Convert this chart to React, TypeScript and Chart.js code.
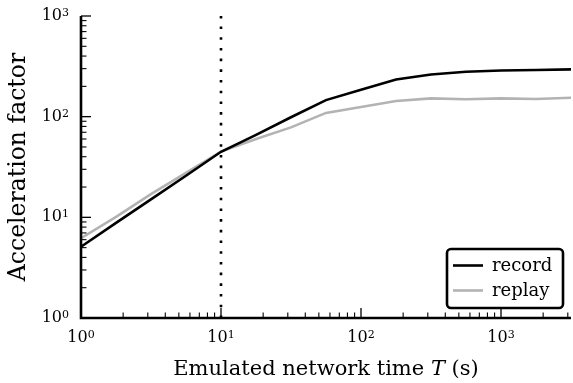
import React, { useEffect, useRef } from "react";
import { Chart, registerables } from "chart.js";

Chart.register(...registerables);

const timeValues = [1, 1.78, 3.16, 5.62, 10, 17.8, 31.6, 56.2, 100, 178, 316, 562, 1000, 1778, 3162];
const recordValues = [5.1, 8.8, 15.1, 25.9, 44.8, 66, 98.6, 146, 185, 234, 262, 279, 287, 291, 295];
const replayValues = [6.2, 10.1, 17, 27.6, 45, 60, 78.3, 109, 125, 143, 152, 149, 152, 150, 154];
const markerX = 10;
const xDecades = [0, 1, 2, 3];
const yDecades = [0, 1, 2, 3];
const seriesLabels = ["record", "replay"];
const xTitle = "Emulated network time ";
const xTitleVar = "T";
const xTitleUnit = " (s)";
const yTitle = "Acceleration factor";

const FONT = "'DejaVu Serif', serif";

function drawPow(ctx: CanvasRenderingContext2D, exp: number, x: number, y: number, align: "center" | "right") {
  ctx.font = `16px ${FONT}`;
  const base = "10";
  const wb = ctx.measureText(base).width;
  ctx.font = `11px ${FONT}`;
  const we = ctx.measureText(String(exp)).width;
  const total = wb + we;
  const x0 = align === "center" ? x - total / 2 : x - total;
  ctx.textAlign = "left";
  ctx.textBaseline = "alphabetic";
  ctx.font = `16px ${FONT}`;
  ctx.fillText(base, x0, y);
  ctx.font = `11px ${FONT}`;
  ctx.fillText(String(exp), x0 + wb, y - 4);
}

const axesPlugin = {
  id: "axesPlugin",
  afterDraw(chart: any) {
    const { ctx, chartArea } = chart;
    const { left, right, top, bottom } = chartArea;
    const xs = chart.scales.x;
    const ys = chart.scales.y;
    ctx.save();
    ctx.fillStyle = "#000";
    ctx.strokeStyle = "#000";
    // spines
    ctx.lineWidth = 2.6;
    ctx.beginPath();
    ctx.moveTo(left, top);
    ctx.lineTo(left, bottom);
    ctx.lineTo(right, bottom);
    ctx.stroke();
    // x ticks
    for (const d of xDecades) {
      for (let m = 1; m <= 9; m++) {
        const v = m * Math.pow(10, d);
        if (v > xs.max * 1.0001) continue;
        const px = xs.getPixelForValue(v);
        ctx.lineWidth = m === 1 ? 1.3 : 1.1;
        ctx.beginPath();
        ctx.moveTo(px, bottom);
        ctx.lineTo(px, bottom - (m === 1 ? 10 : 5.5));
        ctx.stroke();
      }
      drawPow(ctx, d, xs.getPixelForValue(Math.pow(10, d)), bottom + 24, "center");
    }
    // y ticks
    for (const d of yDecades) {
      for (let m = 1; m <= 9; m++) {
        const v = m * Math.pow(10, d);
        if (v > ys.max * 1.0001) continue;
        const py = ys.getPixelForValue(v);
        ctx.lineWidth = m === 1 ? 1.3 : 1.1;
        ctx.beginPath();
        ctx.moveTo(left, py);
        ctx.lineTo(left + (m === 1 ? 10 : 5.5), py);
        ctx.stroke();
      }
      drawPow(ctx, d, left - 12, ys.getPixelForValue(Math.pow(10, d)) + 4, "right");
    }
    // x title
    const fs = 21;
    ctx.font = `${fs}px ${FONT}`;
    const w1 = ctx.measureText(xTitle).width;
    ctx.font = `italic ${fs}px ${FONT}`;
    const w2 = ctx.measureText(xTitleVar).width;
    ctx.font = `${fs}px ${FONT}`;
    const w3 = ctx.measureText(xTitleUnit).width;
    const cx = (left + right) / 2;
    const x0 = cx - (w1 + w2 + w3) / 2;
    const ty = 375;
    ctx.textAlign = "left";
    ctx.textBaseline = "alphabetic";
    ctx.fillText(xTitle, x0, ty);
    ctx.font = `italic ${fs}px ${FONT}`;
    ctx.fillText(xTitleVar, x0 + w1, ty);
    ctx.font = `${fs}px ${FONT}`;
    ctx.fillText(xTitleUnit, x0 + w1 + w2, ty);
    // y title
    ctx.save();
    ctx.translate(25, (top + bottom) / 2);
    ctx.rotate(-Math.PI / 2);
    ctx.textAlign = "center";
    ctx.textBaseline = "alphabetic";
    ctx.font = `23.5px ${FONT}`;
    ctx.fillText(yTitle, 0, 0);
    ctx.restore();
    // legend
    const lx = 447, ly = 249, lw = 116, lh = 59, r = 4;
    ctx.fillStyle = "#fff";
    ctx.strokeStyle = "#000";
    ctx.lineWidth = 2.6;
    ctx.beginPath();
    ctx.roundRect(lx, ly, lw, lh, r);
    ctx.fill();
    ctx.stroke();
    const ds = chart.data.datasets;
    for (let i = 0; i < 2; i++) {
      const yy = 265.5 + i * 25;
      ctx.strokeStyle = ds[i].borderColor;
      ctx.lineWidth = 2.6;
      ctx.beginPath();
      ctx.moveTo(453, yy);
      ctx.lineTo(483, yy);
      ctx.stroke();
      ctx.fillStyle = "#000";
      ctx.font = `18px ${FONT}`;
      ctx.textAlign = "left";
      ctx.textBaseline = "alphabetic";
      ctx.fillText(ds[i].label, 492, yy + 5);
    }
    ctx.restore();
  },
};

export default function App() {
  const ref = useRef<HTMLCanvasElement | null>(null);
  useEffect(() => {
    document.body.style.margin = "0";
    const chart = new Chart(ref.current!, {
      type: "line",
      data: {
        datasets: [
          {
            label: seriesLabels[0],
            data: timeValues.map((t, i) => ({ x: t, y: recordValues[i] })),
            borderColor: "#000000",
            borderWidth: 2.6,
            pointRadius: 0,
            tension: 0,
          },
          {
            label: seriesLabels[1],
            data: timeValues.map((t, i) => ({ x: t, y: replayValues[i] })),
            borderColor: "#b3b3b3",
            borderWidth: 2.6,
            pointRadius: 0,
            tension: 0,
          },
          {
            label: "marker",
            data: [
              { x: markerX, y: 1 },
              { x: markerX, y: 1000 },
            ],
            borderColor: "#000000",
            borderWidth: 2.6,
            borderDash: [2.6, 8.1],
            borderCapStyle: "butt",
            pointRadius: 0,
          },
        ],
      },
      options: {
        animation: false,
        responsive: false,
        layout: { padding: { left: 81, right: 2, top: 16, bottom: 65 } },
        plugins: { legend: { display: false }, tooltip: { enabled: false } },
        scales: {
          x: { type: "logarithmic", min: 1, max: 3162, display: false },
          y: { type: "logarithmic", min: 1, max: 1000, display: false },
        },
      },
      plugins: [axesPlugin],
    });
    return () => chart.destroy();
  }, []);
  return (
    <div style={{ position: "absolute", left: 0, top: 0, width: 573, height: 383, background: "#fff" }}>
      <canvas ref={ref} width={573} height={383} style={{ width: 573, height: 383 }} />
    </div>
  );
}
